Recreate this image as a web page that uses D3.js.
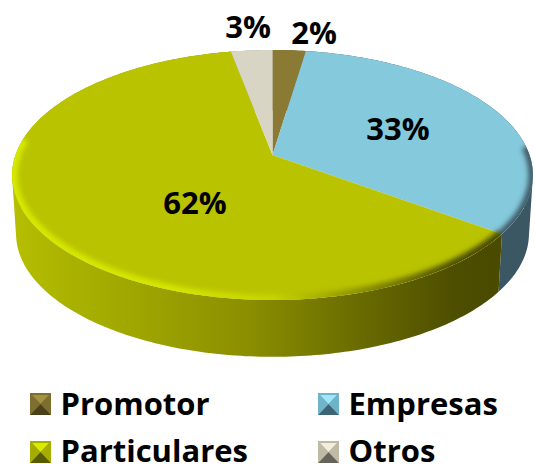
<!DOCTYPE html>
<html><head><meta charset="utf-8">
<script src="https://cdn.jsdelivr.net/npm/d3@7"></script>
<style>html,body{margin:0;padding:0;background:#fff}svg{display:block}text{font-family:"Open Sans",Lato,sans-serif;font-weight:700;fill:#000}</style>
</head><body><svg id="c" width="535" height="464"></svg>
<script>
const categories=["Promotor","Empresas","Particulares","Otros"];
const values=[2.4,32.6,62,3];
const topColors=["#8a7a33","#85c9dc","#b9c300","#d8d5c4"];
const legendBase=["#7d6f30","#6fb4c8","#a4ad00","#bdbaa6"];
const legendLight=["#a3923f","#9fe6fa","#dcea00","#f2eedb"];
const legendDark=["#4a411a","#3d6472","#565a00","#66645a"];

const svg=d3.select("#c"),defs=svg.append("defs");
const cx=272.5,apexY=155,a=257,b=121.8,p=0.16,depth=59,shrink=0.985;
function proj(ang,dropped){
  const X=Math.sin(ang),Y=-Math.cos(ang),w=1-p*Y,s=dropped?shrink:1;
  return [cx+s*a*X/w, apexY+(dropped?depth:0)+s*b*Y/w];
}
const pie=d3.pie().sort(null).value(d=>d)(values);
const line=d3.line();
const arcPts=(a0,a1,dr)=>{const n=Math.max(6,Math.ceil((a1-a0)*60));return d3.range(n+1).map(i=>proj(a0+(a1-a0)*i/n,dr));};
function wall(a0,a1){
  const t=arcPts(a0,a1,false),u=arcPts(a0,a1,true);
  return d3.range(t.length-1).map(i=>{
    const q=d3.polygonHull([t[i],t[i+1],u[i+1],u[i]]);
    return line(q)+"Z";
  }).join("");
}
function grad(id,stops){
  const g=defs.append("linearGradient").attr("id",id).attr("gradientUnits","userSpaceOnUse").attr("x1",12).attr("x2",532).attr("y1",0).attr("y2",0);
  stops.forEach(([o,c])=>g.append("stop").attr("offset",o).attr("stop-color",c));
}
grad("sideP",[[0,"#b6bf00"],[.12,"#a9b100"],[.22,"#a0a800"],[.45,"#8b8f00"],[.65,"#6c6e00"],[.85,"#4e4e00"],[1,"#474700"]]);
grad("rimP",[[0,"#d6ea00"],[.3,"#d4e600"],[.5,"#c8d400"],[.66,"#8f9400"],[.85,"#505000"],[1,"#474700"]]);
defs.append("filter").attr("id","blur").attr("x","-10%").attr("y","-10%").attr("width","120%").attr("height","120%")
  .append("feGaussianBlur").attr("stdDeviation",2.4);
defs.append("clipPath").attr("id","topClip").append("path")
  .attr("d",line(arcPts(0,2*Math.PI,false))+"Z");

const sideFill=["#6a5d26","#3b5764","url(#sideP)","#a5a394"];
svg.append("g").selectAll("path").data(pie).join("path")
  .attr("d",d=>wall(d.startAngle,d.endAngle))
  .attr("fill",(d,i)=>sideFill[i]);
svg.append("g").selectAll("path").data(pie).join("path")
  .attr("d",d=>line([[cx,apexY],...arcPts(d.startAngle,d.endAngle,false)])+"Z")
  .attr("fill",(d,i)=>topColors[i]);
const rim=svg.append("g").attr("clip-path","url(#topClip)").append("g").attr("filter","url(#blur)");
const rimSpec=[{i:1,from:1.5,to:null,c:"#3f5a68",w:9},{i:2,from:null,to:4.85,c:"url(#rimP)",w:11}];
rimSpec.forEach(r=>{
  const d=pie[r.i];
  rim.append("path").attr("d",line(arcPts(r.from??d.startAngle,r.to??d.endAngle,false)))
    .attr("fill","none").attr("stroke",r.c).attr("stroke-width",r.w);
});
const labelPos=[[314,44],[398,140],[195,214],[248,38]];
const labels=values.map(v=>Math.round(v)+"%");
svg.append("g").selectAll("text").data(labels).join("text")
  .attr("x",(d,i)=>labelPos[i][0]).attr("y",(d,i)=>labelPos[i][1])
  .attr("text-anchor","middle").attr("font-size",31).text(d=>d);
const lx=d3.scaleOrdinal([0,1],[30,318]),ly=d3.scaleOrdinal([0,1],[393,441]);
const textBase=[415,462];
const sw=21,sh=22;
categories.forEach((c,i)=>{
  const col=i%2,row=Math.floor(i/2),x=lx(col),y=ly(row);
  const g=svg.append("g").attr("transform",`translate(${x},${y})`);
  const mx=sw/2,my=sh/2;
  g.append("rect").attr("width",sw).attr("height",sh).attr("fill",legendBase[i]);
  g.append("polygon").attr("points",`2,2 ${sw-2},2 ${mx},${my}`).attr("fill",legendLight[i]);
  g.append("polygon").attr("points",`0,${sh} ${sw},${sh} ${mx},${my}`).attr("fill",legendDark[i]);
  g.append("polygon").attr("points",`0,0 ${mx},${my} 0,${sh}`).attr("fill",legendBase[i]);
  g.append("polygon").attr("points",`${sw},0 ${mx},${my} ${sw},${sh}`).attr("fill",legendBase[i]).attr("opacity",.85);
  svg.append("text").attr("x",x+30.5).attr("y",textBase[row]).attr("font-size",31).text(c);
});
</script></body></html>
